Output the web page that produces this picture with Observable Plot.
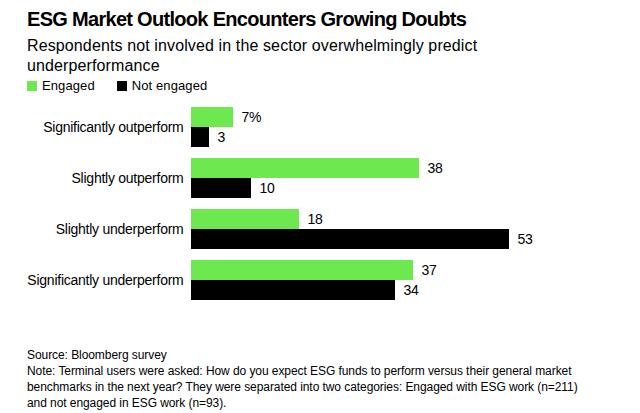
<!DOCTYPE html>
<html><head><meta charset="utf-8">
<script src="https://cdn.jsdelivr.net/npm/d3@7"></script>
<script src="https://cdn.jsdelivr.net/npm/@observablehq/plot@0.6"></script>
<style>
body{margin:0;background:#fff;font-family:"Liberation Sans",Arial,sans-serif;color:#000;width:640px;}
.hd{padding-left:27px;}
.title{font-size:20px;font-weight:bold;line-height:22px;padding-top:8px;letter-spacing:-0.7px}
.sub{font-size:16px;line-height:20px;margin-top:6px;letter-spacing:0.12px}
.legend{font-size:13px;line-height:16px;margin-top:2px;display:flex;gap:22px;letter-spacing:0.1px}
.sw{display:inline-block;width:10px;height:10px;margin-right:5px;vertical-align:-1px}
.foot{padding-left:27px;font-size:12px;line-height:16px;letter-spacing:-0.07px;margin-top:4px}
</style></head><body>
<div class="hd">
  <div class="title">ESG Market Outlook Encounters Growing Doubts</div>
  <div class="sub">Respondents not involved in the sector overwhelmingly predict<br>underperformance</div>
  <div class="legend" id="legend"></div>
</div>
<div id="chart"></div>
<div class="foot">Source: Bloomberg survey<br>Note: Terminal users were asked: How do you expect ESG funds to perform versus their general market<br>benchmarks in the next year? They were separated into two categories: Engaged with ESG work (n=211)<br>and not engaged in ESG work (n=93).</div>
<script>
const categories = ["Significantly outperform", "Slightly outperform", "Slightly underperform", "Significantly underperform"];
const series = ["Engaged", "Not engaged"];
const engaged = [7, 38, 18, 37];
const notEngaged = [3, 10, 53, 34];
const colors = ["#6de84f", "#000000"];

const data = categories.flatMap((c, i) => [
  {category: c, series: series[0], value: engaged[i]},
  {category: c, series: series[1], value: notEngaged[i]}
]);

const legend = document.getElementById("legend");
series.forEach((s, i) => {
  const span = document.createElement("span");
  span.innerHTML = `<i class="sw" style="background:${colors[i]}"></i>${s}`;
  legend.appendChild(span);
});

const chart = Plot.plot({
  width: 640, height: 249,
  marginTop: 13, marginBottom: 42, marginLeft: 191, marginRight: 131,
  style: {fontFamily: "Liberation Sans, Arial, sans-serif", fontSize: "14px", letterSpacing: "-0.25px", color: "#000", background: "#fff"},
  x: {domain: [0, 53], axis: null},
  y: {domain: series, axis: null, padding: 0},
  fy: {domain: categories, paddingInner: 0.21, paddingOuter: 0, axis: "left", tickSize: 0, tickPadding: 8, label: null},
  color: {domain: series, range: colors},
  marks: [
    Plot.barX(data, {x: "value", y: "series", fy: "category", fill: "series"}),
    Plot.text(data, {
      x: "value", y: "series", fy: "category",
      text: d => (d.category === categories[0] && d.series === series[0]) ? d.value + "%" : String(d.value),
      dx: 8, textAnchor: "start", fontSize: 14, fill: "#000"
    })
  ]
});
document.getElementById("chart").appendChild(chart);
</script>
</body></html>
